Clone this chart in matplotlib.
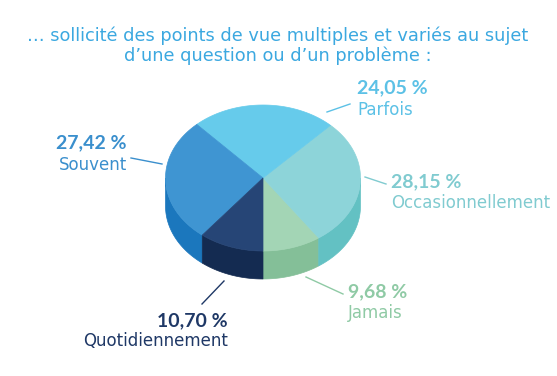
import numpy as np
import matplotlib.pyplot as plt
from matplotlib.patches import Polygon

plt.rcParams['font.family'] = ['DejaVu Sans']

# données (ordre anti-horaire à partir du bas)
categories = ["Jamais", "Occasionnellement", "Parfois", "Souvent", "Quotidiennement"]
values = [9.68, 28.15, 24.05, 27.42, 10.70]
top_colors = ["#a3d5b5", "#8dd4d9", "#66cbeb", "#3f95d2", "#264576"]
side_colors = ["#84bf98", "#63c1c3", "#4fb5d8", "#1b77bd", "#142b51"]
text_colors = ["#8fcaa5", "#80cbd0", "#5cc1e6", "#3a8fcd", "#1f3866"]

title = "… sollicité des points de vue multiples et variés au sujet\nd’une question ou d’un problème :"

# géométrie du camembert (pixels)
cx, cy, a, b, depth = 263, 178, 97.5, 73, 28
start = -90

# position des étiquettes : (x, y pct, y libellé, alignement, ligne)
label_pos = {
    "Jamais": (348, 292, 313, "left", [(306, 277), (343, 294)]),
    "Occasionnellement": (391, 182, 203, "left", [(365, 177), (386, 184)]),
    "Parfois": (357, 88, 110, "left", [(327, 112), (350, 104)]),
    "Souvent": (127, 143, 165, "right", [(131, 158), (162, 164)]),
    "Quotidiennement": (228, 321, 341, "right", [(224, 281), (202, 304)]),
}

fig = plt.figure(figsize=(5.57, 3.76), dpi=100)
ax = fig.add_axes([0, 0, 1, 1])
ax.set_xlim(0, 557)
ax.set_ylim(376, 0)
ax.axis('off')


def arc(t1, t2, dy=0):
    t = np.radians(np.linspace(t1, t2, 80))
    return np.column_stack([cx + a * np.cos(t), cy - b * np.sin(t) + dy])


angles = start + np.concatenate([[0], np.cumsum(values)]) / sum(values) * 360

# côtés visibles (partie avant : sin < 0)
for i in range(len(values)):
    t1, t2 = angles[i], angles[i + 1]
    for lo, hi in [(-180, 0), (180, 360)]:
        s, e = max(t1, lo), min(t2, hi)
        if e > s:
            pts = np.vstack([arc(s, e), arc(s, e, depth)[::-1]])
            ax.add_patch(Polygon(pts, closed=True, fc=side_colors[i],
                                 ec=side_colors[i], lw=0.5))

# faces du dessus
for i in range(len(values)):
    pts = np.vstack([[cx, cy], arc(angles[i], angles[i + 1])])
    ax.add_patch(Polygon(pts, closed=True, fc=top_colors[i],
                         ec=top_colors[i], lw=0.5))

# étiquettes
for i, cat in enumerate(categories):
    x, ypct, ylab, ha, line = label_pos[cat]
    pct = f"{values[i]:.2f}".replace(".", ",") + " %"
    ax.text(x, ypct, pct, ha=ha, va='center', fontsize=14, fontweight='bold',
            family=['Lato', 'DejaVu Sans'], color=text_colors[i])
    ax.text(x, ylab, cat, ha=ha, va='center', fontsize=12, color=text_colors[i])
    (x1, y1), (x2, y2) = line
    ax.plot([x1, x2], [y1, y2], color=text_colors[i], lw=1)

ax.text(278, 46, title, ha='center', va='center', fontsize=12.8,
        color="#3ba8e0", linespacing=1.12)

fig.savefig("out.png", dpi=100)
